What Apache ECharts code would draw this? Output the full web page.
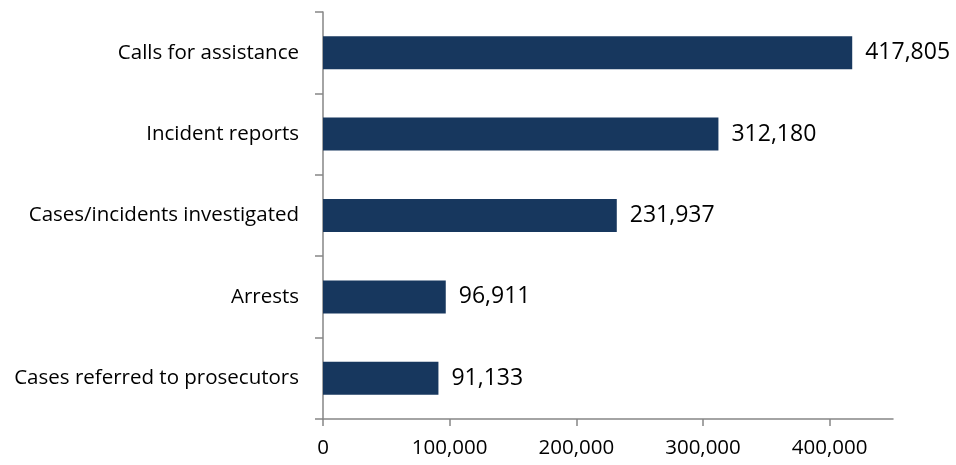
<!DOCTYPE html>
<html><head><meta charset="utf-8">
<script src="https://cdn.jsdelivr.net/npm/echarts@6/dist/echarts.min.js"></script>
<style>html,body{margin:0;padding:0;background:#fff}#c{width:956px;height:465px}</style>
</head><body><div id="c"></div>
<script>
const categories = ["Calls for assistance", "Incident reports", "Cases/incidents investigated", "Arrests", "Cases referred to prosecutors"];
const values = [417805, 312180, 231937, 96911, 91133];
const xTicks = [0, 100000, 200000, 300000, 400000];

const chart = echarts.init(document.getElementById('c'), null, {renderer: 'canvas'});
const font = '"Open Sans", sans-serif';
chart.setOption({
  animation: false,
  grid: {left: 323, right: 63, top: 12, bottom: 46, containLabel: false},
  xAxis: {
    type: 'value', min: 0, max: 450000, interval: 100000,
    splitLine: {show: false},
    axisLine: {show: true, lineStyle: {color: '#868686', width: 1.5}},
    axisTick: {show: true, length: 7, lineStyle: {color: '#868686', width: 1.5}, customValues: xTicks},
    axisLabel: {color: '#000', fontFamily: font, fontSize: 20.5, margin: 19, customValues: xTicks,
      formatter: v => v.toLocaleString('en-US')}
  },
  yAxis: {
    type: 'category', data: categories, inverse: true,
    axisLine: {show: true, lineStyle: {color: '#868686', width: 1.5}},
    axisTick: {show: true, inside: false, length: 8, lineStyle: {color: '#868686', width: 1.5}},
    axisLabel: {color: '#000', fontFamily: font, fontSize: 20.5, margin: 24}
  },
  series: [{
    type: 'bar', data: values, barWidth: 33,
    itemStyle: {color: '#17375e'},
    label: {show: true, position: 'right', distance: 13, color: '#000', fontFamily: font, fontSize: 23,
      formatter: p => p.value.toLocaleString('en-US')}
  }]
});
</script></body></html>
